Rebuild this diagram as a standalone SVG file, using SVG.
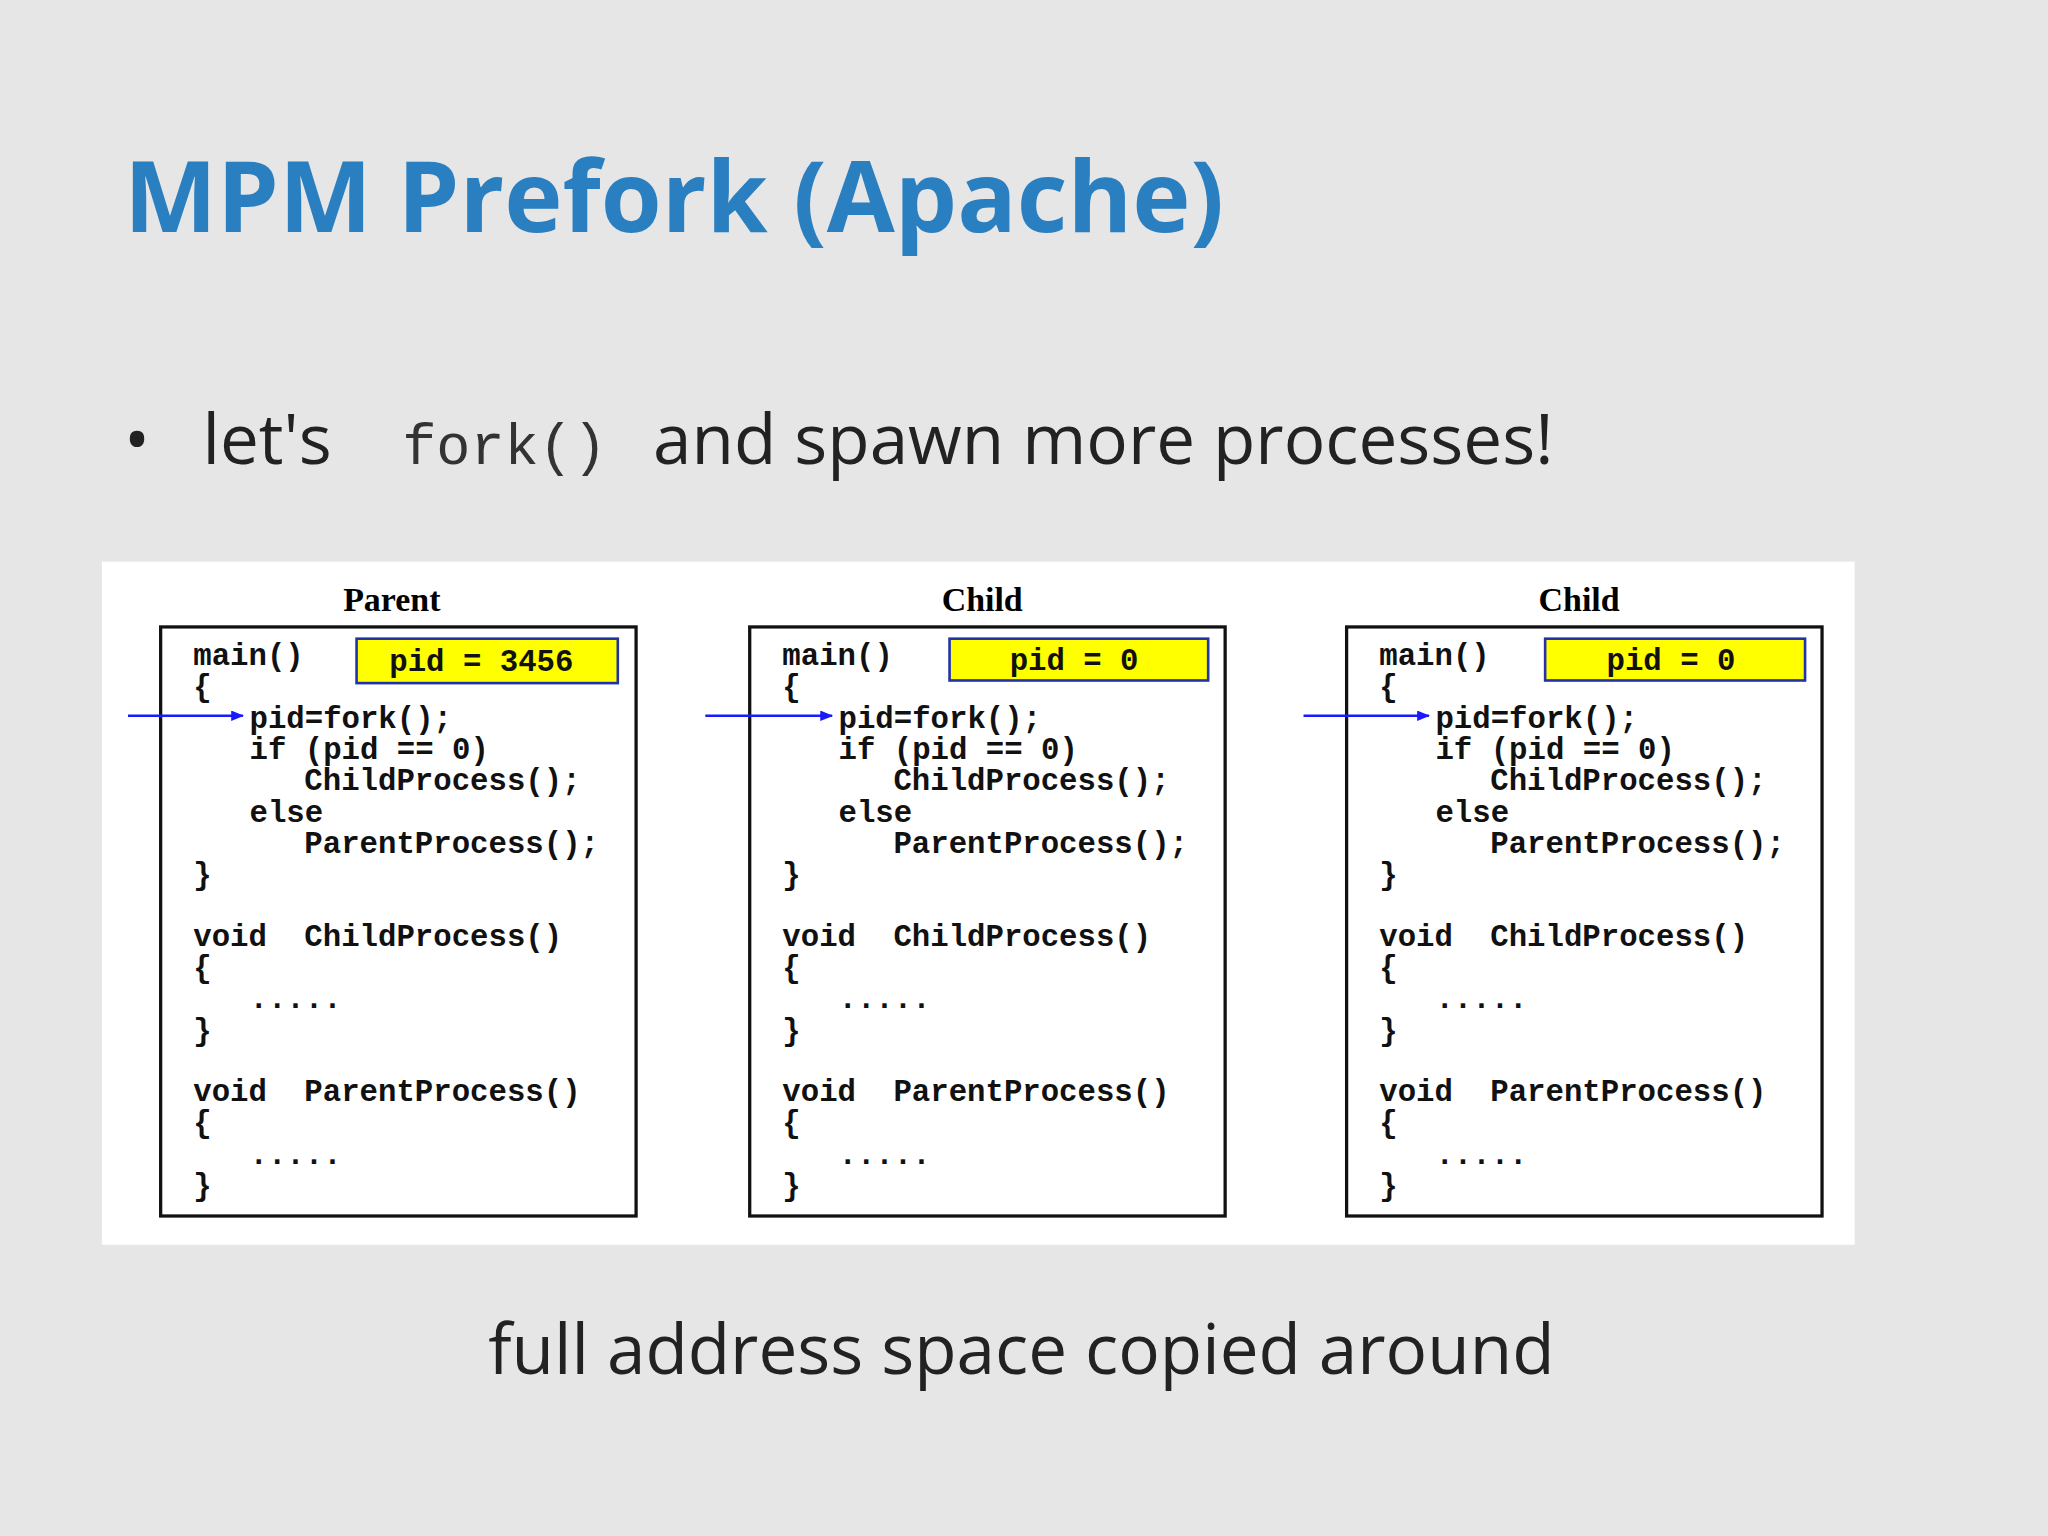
<svg xmlns="http://www.w3.org/2000/svg" width="2048" height="1536" viewBox="0 0 2048 1536">
<style>
.code{font-family:"Liberation Mono","DejaVu Sans Mono",monospace;font-size:23.5px;font-weight:bold;fill:#111}
.hdr{font-family:"Liberation Serif",serif;font-size:26px;font-weight:bold;fill:#000;text-anchor:middle}
.box{fill:#fff;stroke:#111;stroke-width:2.5}
.yel{fill:#ffff00;stroke:#2233aa;stroke-width:2}
.body{font-family:"Open Sans","Noto Sans",sans-serif;font-size:53px;fill:#222}
</style>
<defs>
<marker id="ah" markerWidth="10" markerHeight="8" refX="9" refY="4" orient="auto" markerUnits="userSpaceOnUse"><path d="M0,0 L10,4 L0,8 z" fill="#1a1aff"/></marker>
<g id="proc">
<rect class="box" x="0" y="0" width="364" height="451"/>
<text class="code" x="25" y="29">main()</text>
<text class="code" x="25" y="53">{</text>
<text class="code" x="68" y="77">pid=fork();</text>
<text class="code" x="68" y="101">if (pid == 0)</text>
<text class="code" x="110" y="125">ChildProcess();</text>
<text class="code" x="68" y="149">else</text>
<text class="code" x="110" y="173">ParentProcess();</text>
<text class="code" x="25" y="197">}</text>
<text class="code" x="25" y="244">void</text><text class="code" x="110" y="244">ChildProcess()</text>
<text class="code" x="25" y="268">{</text>
<text class="code" x="68" y="292">.....</text>
<text class="code" x="25" y="316">}</text>
<text class="code" x="25" y="363">void</text><text class="code" x="110" y="363">ParentProcess()</text>
<text class="code" x="25" y="387">{</text>
<text class="code" x="68" y="411">.....</text>
<text class="code" x="25" y="435">}</text>
</g>
</defs>
<rect width="2048" height="1536" fill="#e6e6e6"/>
<g transform="scale(1.30612)">
<text x="95" y="178" font-family="'Open Sans','Noto Sans',sans-serif" font-weight="bold" font-size="75.5" fill="#2a7fc1">MPM Prefork (Apache)</text>
<text class="body" x="95" y="355">•</text>
<text class="body" x="155" y="355">let's</text>
<text x="308" y="355" font-family="'Liberation Mono','DejaVu Sans Mono',monospace" font-size="43.5" fill="#333">fork()</text>
<text class="body" x="500" y="355">and spawn more processes!</text>
<rect x="78" y="430" width="1342" height="523" fill="#fff"/>
<g id="parent">
<text class="hdr" x="300" y="468">Parent</text>
<use href="#proc" x="123" y="480"/>
<rect class="yel" x="273" y="489" width="200" height="34"/>
<text class="code" x="298" y="514">pid = 3456</text>
</g>
<g id="child1">
<text class="hdr" x="752" y="468">Child</text>
<use href="#proc" x="574" y="480"/>
<rect class="yel" x="727" y="489" width="198" height="32"/>
<text class="code" x="773" y="513">pid = 0</text>
</g>
<g id="child2">
<text class="hdr" x="1209" y="468">Child</text>
<use href="#proc" x="1031" y="480"/>
<rect class="yel" x="1183" y="489" width="199" height="32"/>
<text class="code" x="1230" y="513">pid = 0</text>
</g>
<g id="connectors" stroke="#1a1aff" stroke-width="1.8">
<line x1="98" y1="548" x2="186" y2="548" marker-end="url(#ah)"/>
<line x1="540" y1="548" x2="637" y2="548" marker-end="url(#ah)"/>
<line x1="998" y1="548" x2="1094" y2="548" marker-end="url(#ah)"/>
</g>
<text class="body" x="782" y="1052" text-anchor="middle">full address space copied around</text>
</g>
</svg>
